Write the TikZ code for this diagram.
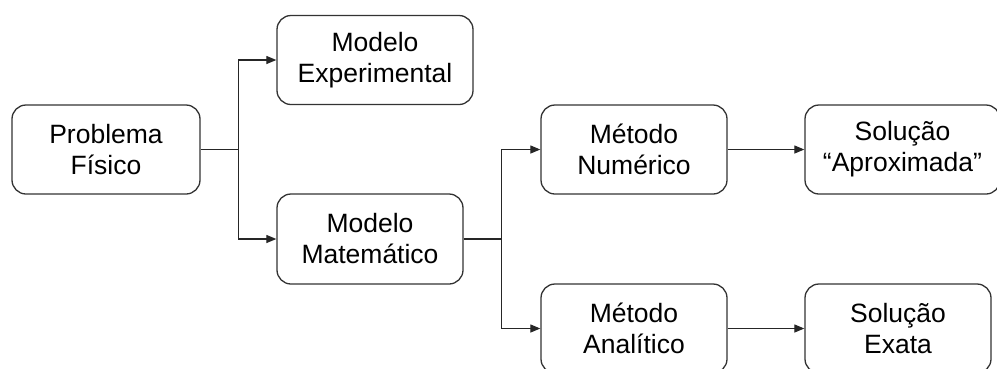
\documentclass[tikz,border=0pt]{standalone}
\usepackage{fontspec}
\setmainfont{Liberation Sans}
\usetikzlibrary{arrows.meta,positioning}

\begin{document}
\begin{tikzpicture}
    [
        x=1pt, y=-1pt,
        myBox/.style={draw=black!80, line width=1.3pt, rounded corners=14pt,
            text=black, align=center, inner sep=0pt,
            minimum width=186pt, minimum height=89pt,
            font=\fontsize{26.5}{31}\selectfont},
        lineTh/.style={black!85, line width=1.2pt},
        arrTh/.style={lineTh, -{Triangle[length=10pt,width=8pt]}}
    ]
%    \draw[style=help lines,step=50] (0,0) grid (997,368);
    \node[myBox, minimum width=188pt] (fis) at (106,149.5) {Problema\\F\'isico};
    \node[myBox, minimum width=196pt] (exp) at (375,60) {Modelo\\Experimental};
    \node[myBox, minimum height=90pt] (mat) at (370,239) {Modelo\\Matem\'atico};
    \node[myBox] (num) at (634,149.5) {M\'etodo\\Num\'erico};
    \node[myBox, minimum width=195pt] (apr) at (902.5,149.5) {Solu\c{c}\~ao\\``Aproximada''};
    \node[myBox] (ana) at (634,328.5) {M\'etodo\\Anal\'itico};
    \node[myBox] (exa) at (898,328.5) {Solu\c{c}\~ao\\Exata};

    \coordinate[right=38pt of fis.east] (br1);
    \coordinate[right=38pt of mat.east] (br2);

    \draw [lineTh] (fis.east) -- (br1);
    \draw [arrTh] (br1) |- (exp.west);
    \draw [arrTh] (br1) |- (mat.west);

    \draw [lineTh] (mat.east) -- (br2);
    \draw [arrTh] (br2) |- (num.west);
    \draw [arrTh] (br2) |- (ana.west);

    \draw [arrTh] (num) -- (apr);
    \draw [arrTh] (ana) -- (exa);

    \pgfresetboundingbox
    \useasboundingbox (0,0) rectangle (997,368);
\end{tikzpicture}
\end{document}
